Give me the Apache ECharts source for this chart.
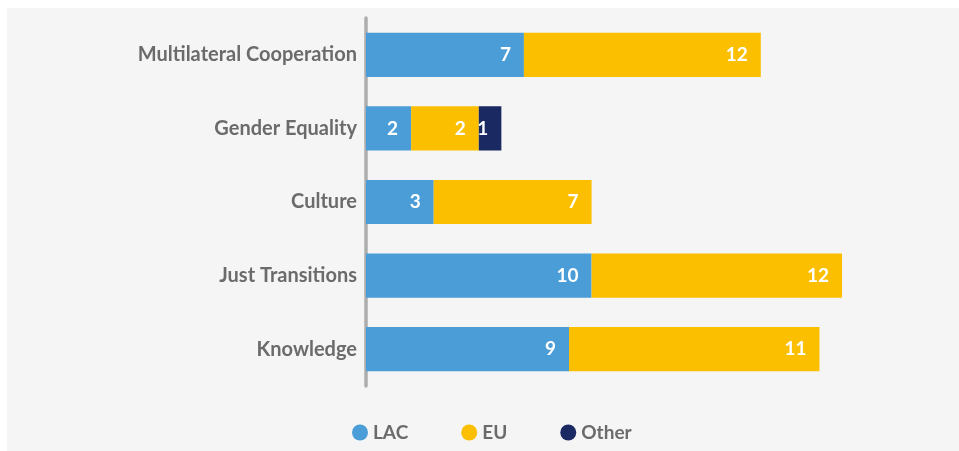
<!DOCTYPE html>
<html>
<head>
<meta charset="utf-8">
<script src="https://cdn.jsdelivr.net/npm/echarts@6/dist/echarts.min.js"></script>
<style>
  html, body { margin: 0; padding: 0; background: #ffffff; }
  .panel {
    position: absolute;
    left: 7px;
    top: 8px;
    width: 952px;
    height: 443px;
    background: #f5f5f5;
  }
  #myChart {
    position: absolute;
    left: 0;
    top: 0;
    width: 959px;
    height: 451px;
  }
</style>
</head>
<body>
<div class="panel"></div>
<div id="myChart"></div>
<script>
// categories, top to bottom
var categories = ['Multilateral Cooperation', 'Gender Equality', 'Culture', 'Just Transitions', 'Knowledge']
// bar lengths as measured in the picture
var lacValues = [7, 2, 3, 10, 9]
var euValues = [10.5, 3, 7, 11.1, 11.1]
var otherValues = [null, 1, null, null, null]
// numbers printed on the bars
var lacLabels = [7, 2, 3, 10, 9]
var euLabels = [12, 2, 7, 12, 11]
var otherLabels = ['', 1, '', '', '']

var fontName = 'Lato'
var greyText = '#6b6b6b'

function barLabel (texts) {
  return {
    show: true,
    position: 'insideRight',
    distance: 13,
    color: '#ffffff',
    fontFamily: fontName,
    fontWeight: 'bold',
    fontSize: 19,
    formatter: function (p) { return texts[p.dataIndex] }
  }
}

var myChart = echarts.init(document.getElementById('myChart'))
myChart.setOption({
  animation: false,
  backgroundColor: 'transparent',
  grid: {
    left: 366,
    top: 18,
    width: 564,
    height: 368
  },
  legend: {
    bottom: 4,
    left: 347,
    icon: 'circle',
    itemWidth: 16,
    itemHeight: 16,
    itemGap: 53,
    textStyle: { color: greyText, fontFamily: fontName, fontWeight: 'bold', fontSize: 19 },
    data: ['LAC', 'EU', 'Other']
  },
  xAxis: {
    type: 'value',
    min: 0,
    max: 25,
    show: false
  },
  yAxis: {
    type: 'category',
    inverse: true,
    offset: 2,
    data: categories,
    axisLine: { show: true, lineStyle: { color: '#adadad', width: 3.5 } },
    axisTick: { show: false },
    axisLabel: {
      margin: 7,
      color: greyText,
      fontFamily: fontName,
      fontWeight: 'bold',
      fontSize: 20
    }
  },
  series: [
    {
      name: 'LAC',
      type: 'bar',
      stack: 'total',
      barWidth: '60%',
      itemStyle: { color: '#4a9dd6' },
      label: barLabel(lacLabels),
      data: lacValues
    },
    {
      name: 'EU',
      type: 'bar',
      stack: 'total',
      itemStyle: { color: '#fbbf00' },
      label: barLabel(euLabels),
      data: euValues
    },
    {
      name: 'Other',
      type: 'bar',
      stack: 'total',
      itemStyle: { color: '#1a2962' },
      label: barLabel(otherLabels),
      data: otherValues
    }
  ]
})
</script>
</body>
</html>
